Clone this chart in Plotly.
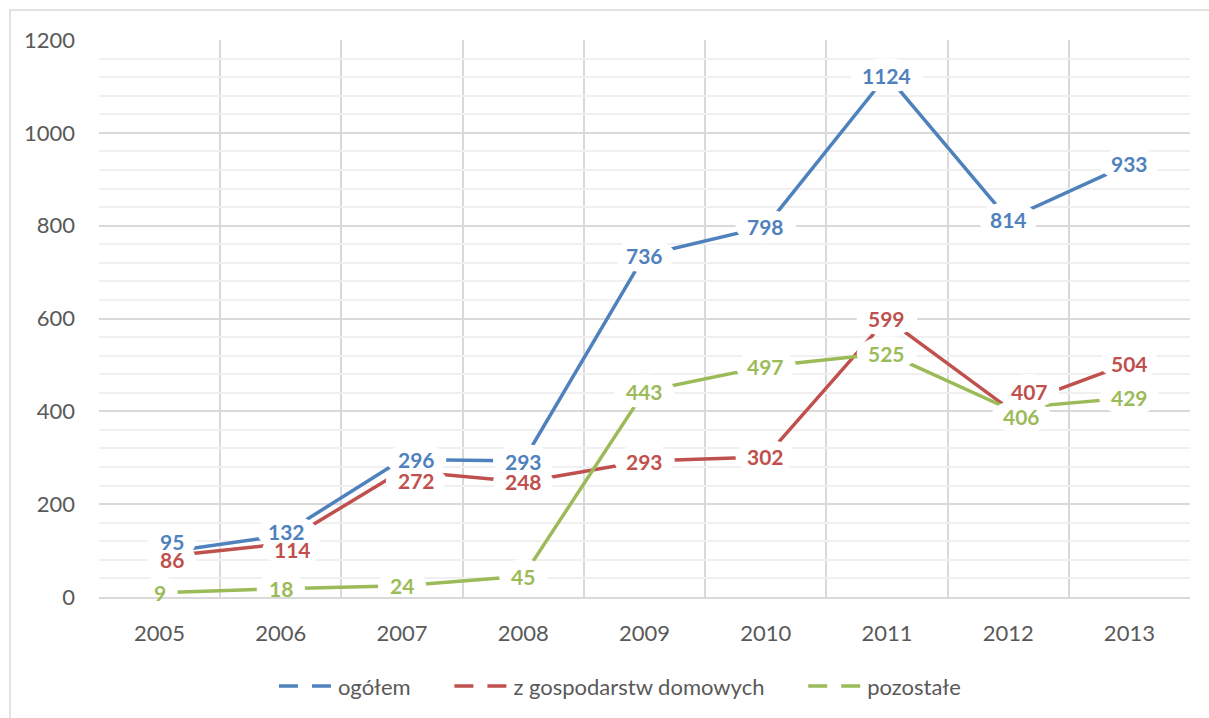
import plotly.graph_objects as go

# data
years = ["2005", "2006", "2007", "2008", "2009", "2010", "2011", "2012", "2013"]
ogolem = [95, 132, 296, 293, 736, 798, 1124, 814, 933]
gospodarstwa = [86, 114, 272, 248, 293, 302, 599, 407, 504]
pozostale = [9, 18, 24, 45, 443, 497, 525, 406, 429]

names = ["ogółem", "z gospodarstw domowych", "pozostałe"]
colors = ["#4F81BD", "#C0504D", "#9BBB59"]

# label nudges in px (dx right, dy up) where Excel moved labels off the point
shifts = [
    {0: (12, 11), 1: (6, 4), 2: (14, 0)},
    {0: (12, -2), 1: (12, -5), 2: (14, -10), 7: (21, 17)},
    {7: (13, -8)},
]

FONT = "Lato, 'Open Sans', sans-serif"
GREY = "#595959"
LABEL_SIZE = 21
PAD = "\u00a0" * 6  # extra room between legend entries, like Excel

x = list(range(len(years)))
fig = go.Figure()

for n, (vals, name, color) in enumerate(zip([ogolem, gospodarstwa, pozostale], names, colors)):
    fig.add_trace(go.Scatter(
        x=x, y=vals, mode="lines", name=name, showlegend=False,
        line=dict(color=color, width=3.5), hoverinfo="skip",
    ))
    # legend-only copy drawn with the split line Excel shows
    fig.add_trace(go.Scatter(
        x=[None], y=[None], mode="lines",
        name=name + (PAD if n < len(names) - 1 else ""),
        line=dict(color=color, width=3.5, dash="19px,14px"),
    ))

# white rounded blobs behind the labels (hide lines + grid), text on top
blobs = []
labels = []
for k, (vals, color) in enumerate(zip([ogolem, gospodarstwa, pozostale], colors)):
    for i, v in enumerate(vals):
        dx, dy = shifts[k].get(i, (0, 0))
        half_w = len(str(v)) * 0.58 * LABEL_SIZE / 2 + 12
        blobs.append(dict(
            type="circle", xref="x", yref="y", xsizemode="pixel", ysizemode="pixel",
            xanchor=i, yanchor=v, x0=dx - half_w, x1=dx + half_w, y0=dy - 17, y1=dy + 17,
            fillcolor="white", line=dict(width=0), layer="above",
        ))
        labels.append(dict(
            x=i, y=v, text=str(v), showarrow=False, xshift=dx, yshift=dy,
            xanchor="center", yanchor="middle",
            font=dict(family=FONT, size=LABEL_SIZE, color=color, weight="bold"),
        ))

border = dict(type="rect", xref="paper", yref="paper",
              x0=-0.0816, x1=1.03, y0=-0.25, y1=1.0538,
              line=dict(color="#D9D9D9", width=1.5), layer="below")

fig.update_layout(
    width=1209, height=718,
    margin=dict(l=99, r=19, t=40, b=120),
    paper_bgcolor="white", plot_bgcolor="white",
    font=dict(family=FONT, size=22, color=GREY),
    annotations=labels,
    shapes=[border] + blobs,
    legend=dict(orientation="h", x=0.4775, xanchor="center", y=-0.158, yanchor="middle",
                font=dict(size=22, color=GREY), itemwidth=54,
                bgcolor="rgba(0,0,0,0)"),
    hovermode=False,
)

fig.update_xaxes(
    range=[-0.5, len(years) - 0.5],
    tickvals=x, ticktext=years, ticks="", showgrid=False,
    ticklabelstandoff=16, zeroline=False,
    showline=True, linecolor="#D9D9D9", linewidth=1.5,
    minor=dict(tickvals=[i - 0.5 for i in range(len(years) + 1)],
               showgrid=True, gridcolor="#D9D9D9", gridwidth=1.5, ticks=""),
)
fig.update_yaxes(
    range=[0, 1200], dtick=200, showgrid=True, gridcolor="#D9D9D9", gridwidth=1.5,
    zeroline=False, ticks="", ticklabelstandoff=23,
    minor=dict(dtick=40, showgrid=True, gridcolor="#F0F0F0", gridwidth=1.5),
)

# the page body has an 8px default margin; drop it so the chart sits at 0,0
fig.write_html("out.html", config={"displayModeBar": False},
               post_script="document.body.style.margin='0';")
